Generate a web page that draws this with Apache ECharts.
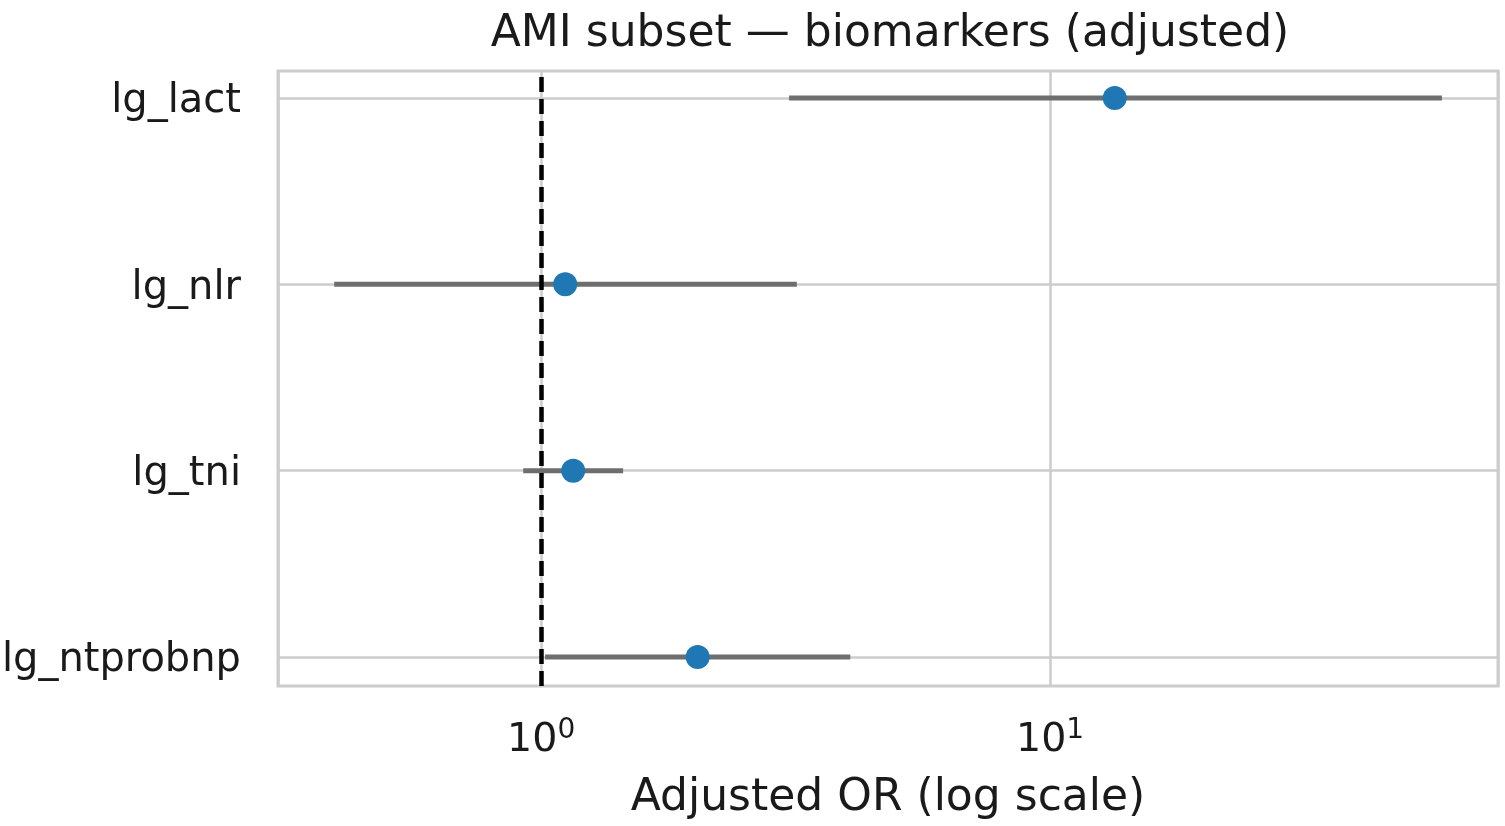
<!DOCTYPE html>
<html>
<head>
<meta charset="utf-8">
<script src="https://cdn.jsdelivr.net/npm/echarts@6/dist/echarts.min.js"></script>
<style>
html,body{margin:0;padding:0;background:#fff;}
#chart{width:1505px;height:826px;}
</style>
</head>
<body>
<div id="chart"></div>
<script>
const categories = ['lg_lact', 'lg_nlr', 'lg_tni', 'lg_ntprobnp'];
const oddsRatio = [13.4, 1.115, 1.156, 2.03];
const ciLow = [3.07, 0.392, 0.922, 1.018];
const ciHigh = [58.9, 3.18, 1.449, 4.05];
const xMin = 0.304;
const xMax = 75.9;
const refValue = 1;

const FONT = 'DejaVu Sans';
const chart = echarts.init(document.getElementById('chart'), null, {renderer: 'canvas'});

const ciData = categories.map((c, i) => [ciLow[i], ciHigh[i], i]);
const pointData = categories.map((c, i) => [oddsRatio[i], c]);

const option = {
  animation: false,
  backgroundColor: '#ffffff',
  title: {
    text: 'AMI subset — biomarkers (adjusted)',
    left: 885,
    top: 8,
    textAlign: 'center',
    textStyle: {fontFamily: FONT, fontSize: 44, fontWeight: 'normal', color: '#1a1a1a'}
  },
  grid: [
    {left: 278, right: 7, top: 71, bottom: 140, show: true, borderColor: '#cccccc', borderWidth: 3, backgroundColor: 'transparent', containLabel: false, outerBoundsMode: 'none'},
    {left: 278, right: 7, top: 98, bottom: 169, containLabel: false, outerBoundsMode: 'none'}
  ],
  xAxis: [
    {
      type: 'log', logBase: 10, min: xMin, max: xMax, gridIndex: 0,
      axisLine: {show: false}, axisTick: {show: false},
      splitLine: {show: true, lineStyle: {color: '#cccccc', width: 2.5}},
      minorTick: {show: false}, minorSplitLine: {show: false},
      axisLabel: {
        showMinLabel: false, showMaxLabel: false, margin: 31,
        formatter: v => '{b|10}{s|' + Math.round(Math.log10(v)) + '}',
        rich: {
          b: {fontFamily: FONT, fontSize: 39.5, color: '#1a1a1a'},
          s: {fontFamily: FONT, fontSize: 28, color: '#1a1a1a', padding: [0, 0, 20, 0]}
        }
      },
      name: 'Adjusted OR (log scale)', nameLocation: 'middle', nameGap: 91,
      nameTextStyle: {fontFamily: FONT, fontSize: 44, color: '#1a1a1a'}
    },
    {type: 'log', logBase: 10, min: xMin, max: xMax, gridIndex: 1, show: false, splitLine: {show: false}}
  ],
  yAxis: [
    {type: 'value', gridIndex: 0, min: 0, max: 1, show: false, splitLine: {show: false}},
    {
      type: 'category', gridIndex: 1, data: categories, inverse: true, boundaryGap: false,
      axisLine: {show: false}, axisTick: {show: false},
      splitLine: {show: true, lineStyle: {color: '#cccccc', width: 2.5}},
      axisLabel: {
        margin: 37,
        formatter: v => '{a|' + v + '}',
        rich: {a: {fontFamily: FONT, fontSize: 40, color: '#1a1a1a', padding: [8, 0, 0, 0]}}
      }
    }
  ],
  series: [
    {
      type: 'custom', xAxisIndex: 1, yAxisIndex: 1, z: 3,
      data: ciData,
      encode: {x: [0, 1], y: 2},
      renderItem: function (params, api) {
        const p1 = api.coord([api.value(0), api.value(2)]);
        const p2 = api.coord([api.value(1), api.value(2)]);
        return {
          type: 'line',
          shape: {x1: p1[0], y1: p1[1], x2: p2[0], y2: p2[1]},
          style: {stroke: '#6e6e6e', lineWidth: 5}
        };
      }
    },
    {
      type: 'line', xAxisIndex: 0, yAxisIndex: 0, data: [], z: 4,
      markLine: {
        silent: true, symbol: 'none', label: {show: false},
        lineStyle: {color: '#000000', type: [15, 7], width: 4.5},
        data: [{xAxis: refValue}]
      }
    },
    {
      type: 'scatter', xAxisIndex: 1, yAxisIndex: 1, z: 5,
      data: pointData, symbol: 'circle', symbolSize: 24,
      itemStyle: {color: '#1f77b4', opacity: 1}
    }
  ]
};
chart.setOption(option);
</script>
</body>
</html>
